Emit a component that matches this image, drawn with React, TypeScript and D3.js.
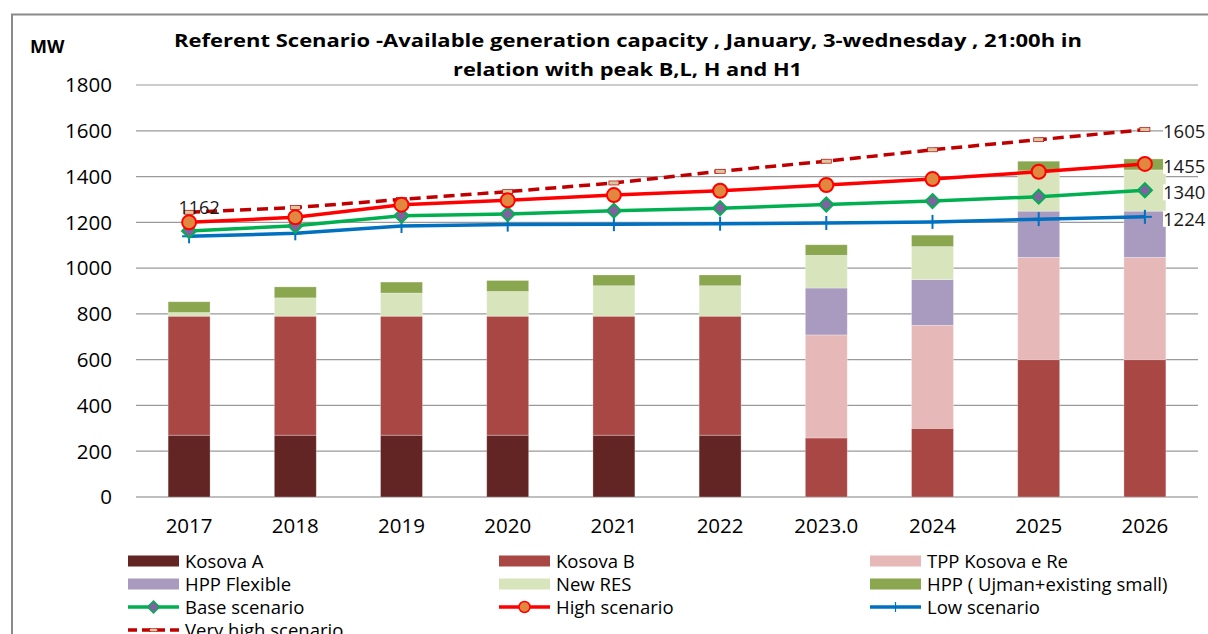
import React from "react";
import * as d3 from "d3";

const categories = ["2017", "2018", "2019", "2020", "2021", "2022", "2023.0", "2024", "2025", "2026"];

const kosovaA = [270, 270, 270, 270, 270, 270, 0, 0, 0, 0];
const kosovaB = [520, 520, 520, 520, 520, 520, 258, 300, 600, 600];
const tppKosovaERe = [0, 0, 0, 0, 0, 0, 450, 450, 447, 447];
const hppFlexible = [0, 0, 0, 0, 0, 0, 205, 200, 202, 202];
const newRES = [16, 80, 101, 108, 133, 133, 143, 144, 176, 180];
const hppSmall = [47, 48, 48, 48, 47, 47, 46, 50, 42, 48];

const baseScenario = [1162, 1185, 1229, 1236, 1251, 1262, 1278, 1293, 1312, 1340];
const highScenario = [1200, 1222, 1277, 1296, 1319, 1338, 1363, 1389, 1421, 1455];
const lowScenario = [1139, 1152, 1184, 1190, 1192, 1194, 1197, 1202, 1214, 1224];
const veryHighScenario = [1244, 1265, 1300, 1334, 1372, 1423, 1467, 1517, 1561, 1605];

const yTicks = [0, 200, 400, 600, 800, 1000, 1200, 1400, 1600, 1800];

const barSeries = [
  { key: "Kosova A", values: kosovaA, color: "#632523" },
  { key: "Kosova B", values: kosovaB, color: "#A94745" },
  { key: "TPP Kosova e Re", values: tppKosovaERe, color: "#E6B8B7" },
  { key: "HPP Flexible", values: hppFlexible, color: "#A99BBF" },
  { key: "New RES", values: newRES, color: "#D8E4BC" },
  { key: "HPP ( Ujman+existing small)", values: hppSmall, color: "#8AA64E" },
];

const FONT = "'Open Sans', 'DejaVu Sans', sans-serif";

export default function App() {
  const W = 1208;
  const H = 634;
  const x = d3.scaleBand<string>().domain(categories).range([136, 1198]).padding(0);
  const y = d3.scaleLinear().domain([0, 1800]).range([497, 85]);
  const bw = x.bandwidth();
  const barW = bw * 0.395;
  const cx = (c: string) => (x(c) as number) + bw / 2;

  const table = categories.map((c, i) => {
    const row: any = { cat: c };
    barSeries.forEach((s) => (row[s.key] = s.values[i]));
    return row;
  });
  const stacked = d3.stack<any>().keys(barSeries.map((s) => s.key))(table);

  const lineGen = d3
    .line<number>()
    .x((_, i) => cx(categories[i]))
    .y((v) => y(v));

  const diamond = (px: number, py: number, r: number) =>
    `M${px},${py - r}L${px + r},${py}L${px},${py + r}L${px - r},${py}Z`;

  const last = categories.length - 1;
  const rightLabels = [
    { v: veryHighScenario[last] },
    { v: highScenario[last] },
    { v: baseScenario[last] },
    { v: lowScenario[last] },
  ];

  const legendCols = [128, 499, 870];
  const legendRows = [561, 584, 607, 630];
  const swW = 51;

  const lineLegend = (kind: string, lx: number, ly: number) => {
    const mid = lx + swW / 2;
    if (kind === "base")
      return (
        <g>
          <line x1={lx} x2={lx + swW} y1={ly} y2={ly} stroke="#00B050" strokeWidth={3.5} />
          <path d={diamond(mid, ly, 6)} fill="#7F62A0" stroke="#00B050" strokeWidth={1.5} />
        </g>
      );
    if (kind === "high")
      return (
        <g>
          <line x1={lx} x2={lx + swW} y1={ly} y2={ly} stroke="#FF0000" strokeWidth={3.5} />
          <circle cx={mid} cy={ly} r={5.5} fill="#E0883F" stroke="#FF0000" strokeWidth={1.5} />
        </g>
      );
    if (kind === "low")
      return (
        <g>
          <line x1={lx} x2={lx + swW} y1={ly} y2={ly} stroke="#0070C0" strokeWidth={3.5} />
          <line x1={mid} x2={mid} y1={ly - 5} y2={ly + 5} stroke="#0070C0" strokeWidth={1.2} />
        </g>
      );
    return (
      <g>
        <line x1={lx} x2={lx + swW} y1={ly} y2={ly} stroke="#C00000" strokeWidth={3.5} strokeDasharray="9,5" />
        <rect x={mid - 4} y={ly - 1.5} width={8} height={3} fill="#D9C9A0" stroke="#C00000" strokeWidth={0.6} />
      </g>
    );
  };

  const legendItems: { label: string; type: string; color?: string }[] = [
    { label: "Kosova A", type: "rect", color: barSeries[0].color },
    { label: "Kosova B", type: "rect", color: barSeries[1].color },
    { label: "TPP Kosova e Re", type: "rect", color: barSeries[2].color },
    { label: "HPP Flexible", type: "rect", color: barSeries[3].color },
    { label: "New RES", type: "rect", color: barSeries[4].color },
    { label: "HPP ( Ujman+existing small)", type: "rect", color: barSeries[5].color },
    { label: "Base scenario", type: "base" },
    { label: "High scenario", type: "high" },
    { label: "Low scenario", type: "low" },
    { label: "Very high scenario", type: "vhigh" },
  ];

  return (
    <svg
      width={W}
      height={H}
      style={{ position: "absolute", left: 0, top: 0, background: "#fff" }}
      fontFamily={FONT}
    >
      <rect x={0} y={0} width={W} height={H} fill="#fff" />
      <rect x={12} y={14.5} width={1400} height={800} fill="none" stroke="#8a8a8a" strokeWidth={2} />

      {/* title */}
      <text x={30} y={53} fontSize={18} fontWeight="bold" fill="#000">MW</text>
      <text x={174} y={47} fontSize={18.5} fontWeight="bold" fill="#000" textLength={908} lengthAdjust="spacingAndGlyphs">
        Referent Scenario -Available generation capacity , January, 3-wednesday , 21:00h in
      </text>
      <text x={453} y={76} fontSize={18.5} fontWeight="bold" fill="#000" textLength={349} lengthAdjust="spacingAndGlyphs">
        relation with peak B,L, H and H1
      </text>

      {/* gridlines */}
      {yTicks.map((t) => (
        <g key={t}>
          <line
            x1={136}
            x2={1198}
            y1={y(t)}
            y2={y(t)}
            stroke={t === 0 ? "#bfbfbf" : "#9a9a9a"}
            strokeWidth={t === 0 ? 2 : 1.2}
          />
          <text x={112} y={y(t)} dy="0.36em" textAnchor="end" fontSize={20.5} fill="#000">
            {t}
          </text>
        </g>
      ))}

      {/* bars */}
      {stacked.map((layer, li) => (
        <g key={layer.key} fill={barSeries[li].color}>
          {layer.map((d, i) =>
            d[1] - d[0] > 0 ? (
              <rect
                key={i}
                x={cx(categories[i]) - barW / 2}
                y={y(d[1])}
                width={barW}
                height={y(d[0]) - y(d[1])}
                stroke="#ffffff"
                strokeOpacity={0.35}
                strokeWidth={0.8}
              />
            ) : null
          )}
        </g>
      ))}

      {/* x labels */}
      {categories.map((c) => (
        <text key={c} x={cx(c)} y={533} textAnchor="middle" fontSize={20.5} fill="#000">
          {c}
        </text>
      ))}

      {/* lines */}
      <path d={lineGen(veryHighScenario) as string} fill="none" stroke="#C00000" strokeWidth={3.5} strokeDasharray="11,6" />
      {veryHighScenario.map((v, i) => (
        <rect key={i} x={cx(categories[i]) - 5} y={y(v) - 2} width={10} height={4} fill="#D9C9A0" stroke="#C00000" strokeWidth={0.7} />
      ))}
      <path d={lineGen(lowScenario) as string} fill="none" stroke="#0070C0" strokeWidth={3.5} />
      {lowScenario.map((v, i) => (
        <g key={i} stroke="#0070C0" strokeWidth={2}>
          <line x1={cx(categories[i])} x2={cx(categories[i])} y1={y(v) - 7} y2={y(v) + 7} />
          <line x1={cx(categories[i]) - 7} x2={cx(categories[i]) + 7} y1={y(v)} y2={y(v)} />
        </g>
      ))}
      <path d={lineGen(baseScenario) as string} fill="none" stroke="#00B050" strokeWidth={3.5} />
      {baseScenario.map((v, i) => (
        <path key={i} d={diamond(cx(categories[i]), y(v), 7)} fill="#7F62A0" stroke="#00B050" strokeWidth={2} />
      ))}
      <path d={lineGen(highScenario) as string} fill="none" stroke="#FF0000" strokeWidth={3.5} />
      {highScenario.map((v, i) => (
        <circle key={i} cx={cx(categories[i])} cy={y(v)} r={7} fill="#E0883F" stroke="#FF0000" strokeWidth={2} />
      ))}

      {/* data labels */}
      <text x={cx(categories[0]) + 10} y={y(baseScenario[0]) - 24} dy="0.36em" textAnchor="middle" fontSize={18} fill="#1a1a1a">
        {baseScenario[0]}
      </text>
      {rightLabels.map((l, i) => (
        <g key={i}>
          <rect x={1163} y={y(l.v) + 2 - 8} width={44} height={16} fill="#fff" />
          <text x={1163} y={y(l.v) + 2} dy="0.36em" fontSize={18.5} fill="#1a1a1a">
            {l.v}
          </text>
        </g>
      ))}

      {/* legend */}
      {legendItems.map((it, i) => {
        const col = i % 3;
        const row = Math.floor(i / 3);
        const lx = legendCols[col];
        const ly = legendRows[row];
        return (
          <g key={it.label}>
            {it.type === "rect" ? (
              <rect x={lx} y={ly - 5.5} width={swW} height={11} fill={it.color} />
            ) : (
              lineLegend(it.type, lx, ly)
            )}
            <text x={lx + swW + 6} y={ly} dy="0.36em" fontSize={18.5} fill="#000">
              {it.label}
            </text>
          </g>
        );
      })}
    </svg>
  );
}
